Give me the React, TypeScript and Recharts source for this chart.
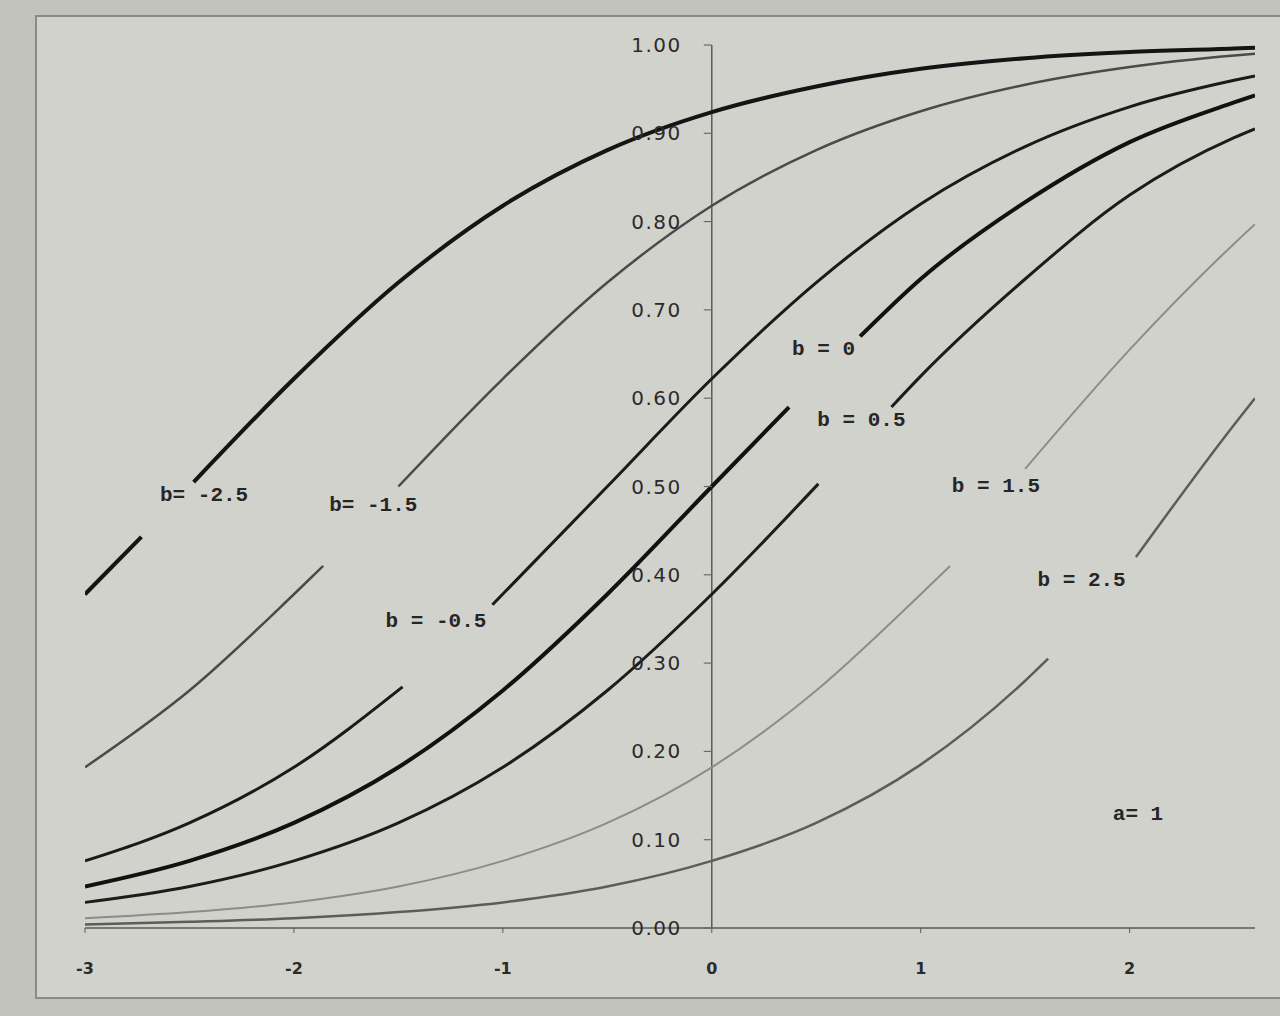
import { LineChart, Line, XAxis, YAxis, ReferenceLine, ReferenceDot } from "recharts";

// ability scale (theta) sample points
const thetas = [-3, -2.5, -2, -1.5, -1, -0.5, 0, 0.5, 1, 1.5, 2, 2.5, 2.6];

// probability of a correct answer (a = 1)
const pBm25 = [0.378, 0.5, 0.622, 0.731, 0.818, 0.881, 0.924, 0.953, 0.973, 0.985, 0.992, 0.996, 0.997];
const pBm15 = [0.182, 0.269, 0.378, 0.5, 0.622, 0.731, 0.818, 0.881, 0.925, 0.955, 0.975, 0.988, 0.99];
const pBm05 = [0.076, 0.119, 0.182, 0.269, 0.378, 0.5, 0.622, 0.731, 0.82, 0.885, 0.93, 0.96, 0.965];
const pB0 = [0.047, 0.076, 0.119, 0.182, 0.269, 0.378, 0.5, 0.622, 0.735, 0.822, 0.89, 0.935, 0.943];
const pB05 = [0.029, 0.047, 0.076, 0.119, 0.182, 0.269, 0.378, 0.5, 0.625, 0.735, 0.83, 0.895, 0.905];
const pB15 = [0.011, 0.018, 0.029, 0.047, 0.076, 0.119, 0.182, 0.269, 0.378, 0.52, 0.655, 0.775, 0.797];
const pB25 = [0.004, 0.007, 0.011, 0.018, 0.029, 0.047, 0.076, 0.119, 0.185, 0.28, 0.41, 0.57, 0.6];

// where each curve is broken for its label: [theta, p] at both ends of the gap
const gapStart = [[-2.73, 0.443], [-1.86, 0.41], [-1.48, 0.273], [0.37, 0.59], [0.51, 0.503], [1.14, 0.41], [1.61, 0.305]];
const gapEnd = [[-2.48, 0.505], [-1.5, 0.5], [-1.05, 0.366], [0.71, 0.67], [0.86, 0.59], [1.5, 0.52], [2.03, 0.42]];

const curveNames = ["b= -2.5", "b= -1.5", "b = -0.5", "b = 0", "b = 0.5", "b = 1.5", "b = 2.5"];
const yTicks = [0, 0.1, 0.2, 0.3, 0.4, 0.5, 0.6, 0.7, 0.8, 0.9, 1];
const xTicks = [-3, -2, -1, 0, 1, 2];

// label placement, in data units
const labelSpots = [[-2.43, 0.49], [-1.62, 0.478], [-1.32, 0.347], [0.535, 0.655], [0.716, 0.575], [1.36, 0.5], [1.77, 0.393]];
const noteSpot = [2.04, 0.128];

const curveStyles = [
  { stroke: "#141414", width: 4 },
  { stroke: "#4a4a4a", width: 2.5 },
  { stroke: "#1a1a1a", width: 3 },
  { stroke: "#111111", width: 4 },
  { stroke: "#1c1c1c", width: 3 },
  { stroke: "#8c8c8a", width: 2 },
  { stroke: "#5c5c5a", width: 2.5 },
];

const allCurves = [pBm25, pBm15, pBm05, pB0, pB05, pB15, pB25];

const W = 1280;
const H = 1016;
const M = { top: 45, left: 85, right: 25, bottom: 45 };
const X_MIN = -3;
const X_MAX = 2.6;

// split a curve into the piece below its label and the piece above it
function segments(vals: number[], i: number) {
  const [s0, s1] = gapStart[i];
  const [e0, e1] = gapEnd[i];
  const pts = thetas.map((x, k) => ({ x, p: vals[k] }));
  const lower = pts.filter((d) => d.x < s0 - 0.1).concat([{ x: s0, p: s1 }]);
  const upper = [{ x: e0, p: e1 }].concat(pts.filter((d) => d.x > e0 + 0.1));
  return [lower, upper];
}

const yTickShape = (v: number) => (p: any) => (
  <g>
    <line x1={p.cx - 8} x2={p.cx} y1={p.cy} y2={p.cy} stroke="#6a6a6a" strokeWidth={1.2} />
    <text x={p.cx - 30} y={p.cy} dy="0.35em" textAnchor="end" fontSize={20} fontFamily="DejaVu Sans" letterSpacing={1.5} fill="#2b2b2b">
      {v.toFixed(2)}
    </text>
  </g>
);

const labelShape = (text: string) => (p: any) => (
  <text
    x={p.cx}
    y={p.cy}
    textAnchor="middle"
    dominantBaseline="central"
    fontSize={21}
    fontWeight="bold"
    fontFamily="Liberation Mono"
    fill="#262626"
    style={{ whiteSpace: "pre" }}
  >
    {text}
  </text>
);

export default function App() {
  return (
    <div style={{ position: "absolute", left: 0, top: 0, width: W, height: H, overflow: "hidden", background: "#c3c3be" }}>
      <div
        style={{
          position: "absolute",
          left: 35,
          top: 15,
          width: 1300,
          height: 980,
          background: "#d2d2cd",
          borderLeft: "2px solid #8a8a86",
          borderTop: "2px solid #8a8a86",
          borderBottom: "2px solid #8a8a86",
        }}
      />
      <div style={{ position: "absolute", left: 0, top: 0 }}>
        <LineChart width={W} height={H} margin={M}>
          <XAxis
            dataKey="x"
            type="number"
            domain={[X_MIN, X_MAX]}
            ticks={xTicks}
            allowDataOverflow
            height={43}
            tickSize={5}
            tickMargin={30}
            axisLine={{ stroke: "#5a5a5a", strokeWidth: 1.5 }}
            tickLine={{ stroke: "#5a5a5a" }}
            tick={{ fontSize: 16, fontFamily: "DejaVu Sans", fill: "#2b2b2b", fontWeight: "bold" }}
          />
          <YAxis type="number" domain={[0, 1]} ticks={yTicks} hide />
          <ReferenceLine x={0} stroke="#5a5a5a" strokeWidth={1.5} />
          {yTicks.map((v) => (
            <ReferenceDot key={v} x={0} y={v} r={0} shape={yTickShape(v)} />
          ))}
          {allCurves.map((vals, i) =>
            segments(vals, i).map((seg, j) => (
              <Line
                key={`${i}-${j}`}
                data={seg}
                dataKey="p"
                type="monotone"
                dot={false}
                activeDot={false}
                stroke={curveStyles[i].stroke}
                strokeWidth={curveStyles[i].width}
                isAnimationActive={false}
              />
            ))
          )}
          {curveNames.map((name, i) => (
            <ReferenceDot key={name} x={labelSpots[i][0]} y={labelSpots[i][1]} r={0} shape={labelShape(name)} />
          ))}
          <ReferenceDot x={noteSpot[0]} y={noteSpot[1]} r={0} shape={labelShape("a= 1")} />
        </LineChart>
      </div>
    </div>
  );
}
